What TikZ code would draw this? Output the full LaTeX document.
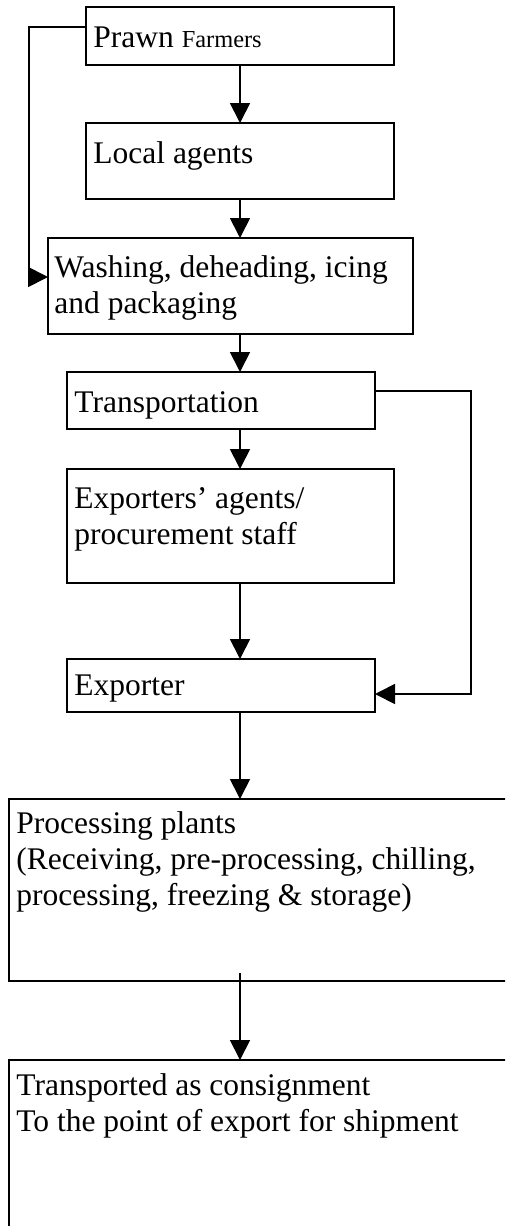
\documentclass[tikz,border=0pt]{standalone}
\usepackage{fontspec}
\setmainfont{Liberation Serif}
\usetikzlibrary{arrows.meta}
\tikzset{
	stage/.style={draw, line width=0.85pt, inner sep=0pt, outer sep=0pt},
	stagetext/.style={anchor=base west, inner sep=0pt, align=left,
			font=\fontsize{15.75}{18}\selectfont},
	flow/.style={->, line width=0.9pt}
}

\begin{document}
\begin{tikzpicture}[x=0.5pt, y=-0.5pt, >={Triangle[width=10pt,length=10pt]}]
	\useasboundingbox (0,0) rectangle (505,1226);
	\clip (0,0) rectangle (505,1226);
	\coordinate (spine) at (240,0);

	% boxes
	\node[stage, minimum width=154pt, minimum height=29pt] (farmers) at (240,36) {};
	\node[stage, minimum width=154pt, minimum height=38pt] (local) at (240,161) {};
	\node[stage, minimum width=182.5pt, minimum height=48pt] (washing) at (230.5,286) {};
	\node[stage, minimum width=154pt, minimum height=28.5pt] (transport) at (221,400.5) {};
	\node[stage, minimum width=163.5pt, minimum height=57pt] (agents) at (230.5,526) {};
	\node[stage, minimum width=154pt, minimum height=26.5pt] (exporter) at (221,685.5) {};
	\node[stage, minimum width=260.5pt, minimum height=91pt] (plants) at (269.5,890) {};
	\node[stage, minimum width=260.5pt, minimum height=100pt] (shipment) at (269.5,1160) {};

	% texts (base = last line)
	\node[stagetext, xshift=3.5pt, yshift=-20pt] (farmers-text) at (farmers.north west)
		{Prawn {\fontsize{12.2}{14}\selectfont Farmers}};
	\node[stagetext, xshift=3.5pt, yshift=-20pt] (local-text) at (local.north west) {Local agents};
	\node[stagetext, xshift=3pt, yshift=-37.5pt] (washing-text) at (washing.north west)
		{Washing, deheading, icing\\and packaging};
	\node[stagetext, xshift=3.5pt, yshift=-20pt] (transport-text) at (transport.north west) {Transportation};
	\node[stagetext, xshift=3.5pt, yshift=-37.5pt] (agents-text) at (agents.north west)
		{Exporters’ agents/\\procurement staff};
	\node[stagetext, xshift=3.5pt, yshift=-18pt] (exporter-text) at (exporter.north west) {Exporter};
	\node[stagetext, xshift=3.5pt, yshift=-53pt] (plants-text) at (plants.north west)
		{Processing plants\\(Receiving, pre-processing, chilling,\\processing, freezing \& storage)};
	\node[stagetext, xshift=3.5pt, yshift=-35.5pt] (shipment-text) at (shipment.north west)
		{Transported as consignment\\To the point of export for shipment};

	% main chain
	\draw[flow] (farmers.south) -- (local.north);
	\draw[flow] (local.south) -- (spine |- washing.north);
	\draw[flow] (spine |- washing.south) -- (spine |- transport.north);
	\draw[flow] (spine |- transport.south) -- (spine |- agents.north);
	\draw[flow] (spine |- agents.south) -- (spine |- exporter.north);
	\draw[flow] (spine |- exporter.south) -- (spine |- plants.north);
	\draw[flow] ([yshift=4pt]spine |- plants.south) -- (spine |- shipment.north);

	% bypass lines
	\draw[flow] ([yshift=4.5pt]farmers.west) -- ++(-57,0) |- ([yshift=4.5pt]washing.west);
	\draw[flow] ([yshift=4.75pt]transport.east) -- ++(96,0) |- ([yshift=-4.25pt]exporter.east);
\end{tikzpicture}
\end{document}
